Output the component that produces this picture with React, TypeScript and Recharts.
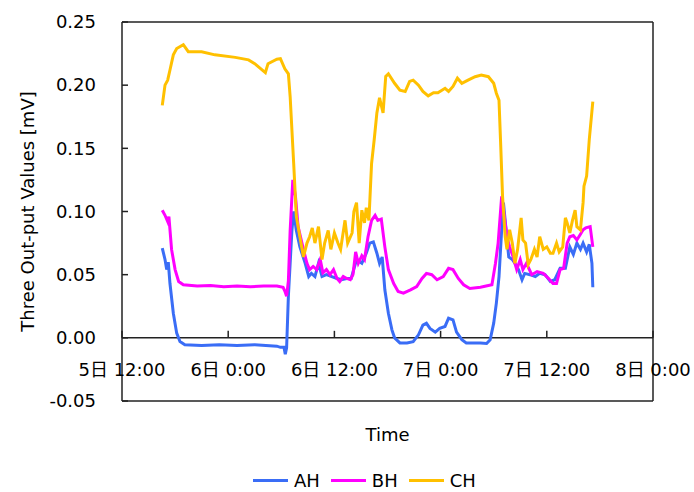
import React from 'react';
import { LineChart, Line, XAxis, YAxis, ReferenceLine, Legend, Label } from 'recharts';

// time in hours after 5日 12:00, value in mV
const ahPoints: [number, number][] = [
  [4.55, 0.071], [4.86, 0.062], [5.05, 0.054], [5.23, 0.06], [5.42, 0.043], [5.8, 0.0195], [6.18, 0.0037],
  [6.55, -0.003], [7.1, -0.0055], [9, -0.006], [11, -0.0055], [13, -0.006], [15, -0.0055], [17.5, -0.0066],
  [17.9, -0.0075], [18.3, -0.0075], [18.45, -0.013], [18.6, -0.008], [18.8, 0.033], [19.2, 0.085], [19.4, 0.1],
  [19.7, 0.085], [20.1, 0.072], [20.7, 0.059], [21.1, 0.0485], [21.4, 0.051], [21.8, 0.0485], [22.2, 0.059],
  [22.6, 0.0485], [23.1, 0.05], [23.7, 0.0485], [24.3, 0.047], [24.8, 0.046], [25.4, 0.047], [25.9, 0.047],
  [26.5, 0.062], [27.1, 0.059], [27.6, 0.067], [28, 0.075], [28.4, 0.076], [28.8, 0.067], [29.1, 0.059],
  [29.4, 0.064], [29.7, 0.038], [30.1, 0.0195], [30.5, 0.0063], [30.8, 0], [31.4, -0.004], [32.2, -0.004],
  [32.9, -0.003], [33.5, 0.0024], [34, 0.01], [34.4, 0.0115], [34.8, 0.0075], [35.4, 0.0045], [35.9, 0.0075],
  [36.5, 0.009], [36.9, 0.0155], [37.4, 0.0142], [37.8, 0.0045], [38.4, -0.0015], [38.9, -0.004], [40.5, -0.004],
  [41.2, -0.0045], [41.6, -0.0015], [42, 0.0116], [42.3, 0.0275], [42.6, 0.0485], [42.9, 0.0855], [43.1, 0.107],
  [43.4, 0.0855], [43.7, 0.064], [44.1, 0.062], [44.4, 0.059], [44.8, 0.054], [45.2, 0.046], [45.5, 0.051],
  [46.1, 0.05], [46.7, 0.0485], [47.2, 0.051], [47.8, 0.05], [48.4, 0.0446], [48.9, 0.046], [49.5, 0.055],
  [50.1, 0.055], [50.6, 0.072], [51, 0.066], [51.4, 0.075], [51.8, 0.07], [52.1, 0.075], [52.5, 0.068],
  [52.8, 0.074], [53.1, 0.059], [53.2, 0.04],
];

const bhPoints: [number, number][] = [
  [4.55, 0.101], [4.86, 0.097], [5.16, 0.092], [5.3, 0.096], [5.6, 0.07], [6, 0.054], [6.4, 0.0446],
  [6.93, 0.042], [8.5, 0.041], [10, 0.0415], [11.5, 0.0405], [13, 0.041], [14.5, 0.0405], [16, 0.041],
  [17.5, 0.041], [18.2, 0.04], [18.4, 0.037], [18.6, 0.033], [18.8, 0.045], [19, 0.085], [19.3, 0.125],
  [19.6, 0.112], [19.9, 0.088], [20.5, 0.07], [20.9, 0.059], [21.2, 0.054], [21.6, 0.0565], [22, 0.054],
  [22.4, 0.062], [22.7, 0.0514], [23.1, 0.054], [23.5, 0.05], [23.9, 0.054], [24.3, 0.047], [24.6, 0.0446],
  [25, 0.0485], [25.4, 0.047], [25.8, 0.046], [26.1, 0.05], [26.4, 0.068], [26.7, 0.059], [27.1, 0.065],
  [27.4, 0.062], [27.8, 0.08], [28.2, 0.093], [28.6, 0.097], [28.9, 0.093], [29.3, 0.094], [29.7, 0.072],
  [30.1, 0.054], [30.7, 0.043], [31.2, 0.0367], [31.8, 0.0354], [32.6, 0.038], [33.3, 0.0406], [33.9, 0.047],
  [34.4, 0.051], [35, 0.05], [35.6, 0.046], [36.3, 0.0485], [36.9, 0.055], [37.4, 0.054], [38, 0.047],
  [38.6, 0.042], [39.3, 0.039], [40.5, 0.04], [41.8, 0.042], [42.2, 0.059], [42.5, 0.075], [42.9, 0.112],
  [43.2, 0.096], [43.5, 0.08], [43.8, 0.072], [44.2, 0.064], [44.6, 0.054], [45, 0.062], [45.3, 0.054],
  [45.7, 0.059], [46.3, 0.05], [46.9, 0.0525], [47.6, 0.051], [48.2, 0.047], [48.7, 0.043], [49.1, 0.043],
  [49.5, 0.054], [49.9, 0.055], [50.3, 0.075], [50.6, 0.08], [51, 0.081], [51.4, 0.0775], [51.8, 0.082],
  [52.1, 0.0855], [52.4, 0.087], [52.9, 0.088], [53.2, 0.072],
];

const chPoints: [number, number][] = [
  [4.55, 0.184], [4.86, 0.2], [5.16, 0.204], [5.42, 0.212], [5.8, 0.224], [6.18, 0.229], [6.93, 0.232],
  [7.49, 0.2265], [9, 0.2265], [10.5, 0.224], [12.8, 0.222], [14.3, 0.22], [15, 0.217], [16.2, 0.21],
  [16.5, 0.217], [17.5, 0.2205], [17.9, 0.221], [18.4, 0.213], [18.8, 0.209], [19, 0.191], [19.4, 0.138],
  [19.7, 0.096], [20.1, 0.08], [20.5, 0.064], [20.9, 0.075], [21.2, 0.08], [21.5, 0.087], [21.8, 0.075],
  [22.2, 0.088], [22.6, 0.062], [22.9, 0.075], [23.3, 0.085], [23.6, 0.07], [24, 0.083], [24.4, 0.075],
  [24.7, 0.07], [25.2, 0.093], [25.5, 0.075], [26, 0.083], [26.2, 0.1], [26.5, 0.107], [26.8, 0.075],
  [27.1, 0.101], [27.4, 0.091], [27.6, 0.103], [27.9, 0.093], [28.2, 0.138], [28.5, 0.157], [28.8, 0.178],
  [29.1, 0.19], [29.5, 0.178], [29.8, 0.207], [30.1, 0.209], [30.8, 0.2015], [31.4, 0.196], [32, 0.195],
  [32.5, 0.203], [32.9, 0.204], [33.5, 0.2], [34, 0.195], [34.6, 0.1915], [35.2, 0.194], [35.7, 0.194],
  [36.5, 0.1975], [36.9, 0.195], [37.4, 0.199], [37.9, 0.2055], [38.4, 0.2015], [39.1, 0.204], [39.9, 0.2067],
  [40.6, 0.208], [41.4, 0.2067], [42, 0.2015], [42.3, 0.1936], [42.6, 0.188], [42.8, 0.151], [43, 0.112],
  [43.3, 0.08], [43.5, 0.07], [43.8, 0.0855], [44.1, 0.075], [44.4, 0.059], [44.7, 0.07], [45.1, 0.095],
  [45.3, 0.0775], [45.6, 0.075], [45.9, 0.058], [46.2, 0.062], [46.6, 0.07], [46.9, 0.064], [47.2, 0.08],
  [47.6, 0.07], [48, 0.072], [48.4, 0.067], [48.7, 0.067], [49.1, 0.075], [49.4, 0.068], [49.8, 0.072],
  [50.1, 0.095], [50.3, 0.091], [50.6, 0.083], [50.9, 0.093], [51.2, 0.101], [51.4, 0.088], [51.8, 0.0855],
  [52.1, 0.107], [52.2, 0.12], [52.5, 0.128], [52.8, 0.157], [53.2, 0.187],
];

const xTicks = [0, 12, 24, 36, 48, 60];
const xTickLabels = ['5日 12:00', '6日 0:00', '6日 12:00', '7日 0:00', '7日 12:00', '8日 0:00'];
const yTicks = [-0.05, 0, 0.05, 0.1, 0.15, 0.2, 0.25];

const series = [
  { name: 'AH', color: '#3a6df6', points: ahPoints },
  { name: 'BH', color: '#ff00ff', points: bhPoints },
  { name: 'CH', color: '#ffc000', points: chPoints },
];

const W = 694;
const H = 492;
const margin = { top: 22, right: 41, bottom: 41, left: 22 };
const xAxisHeight = 50;
const font = '"DejaVu Sans", "Noto Sans CJK JP", sans-serif';
const plotHeight = H - margin.top - margin.bottom - xAxisHeight;
const zeroY = margin.top + plotHeight * (0.25 / 0.3);

const XTick = (props: any) => {
  const { x, index } = props;
  return (
    <g>
      <line x1={x} x2={x} y1={zeroY} y2={zeroY - 7} stroke="#222" strokeWidth={1.5} />
      <text x={x} y={zeroY + 38} textAnchor="middle" fontSize={18} fontFamily={font} fill="#000">
        {xTickLabels[index]}
      </text>
    </g>
  );
};

const YTick = (props: any) => {
  const { x, y, payload } = props;
  return (
    <g>
      <line x1={x} x2={x + 6} y1={y} y2={y} stroke="#222" strokeWidth={1.5} />
      <text x={x - 26} y={y} dy="0.35em" textAnchor="end" fontSize={18} fontFamily={font} fill="#000">
        {payload.value.toFixed(2)}
      </text>
    </g>
  );
};

const renderLegend = () => (
  <div style={{ display: 'flex', alignItems: 'center', fontFamily: font, fontSize: 18, lineHeight: 'normal' }}>
    {series.map((s) => (
      <div key={s.name} style={{ display: 'flex', alignItems: 'center', marginRight: 11 }}>
        <span style={{ display: 'inline-block', width: 35, height: 3, background: s.color, marginRight: 6 }} />
        <span>{s.name}</span>
      </div>
    ))}
  </div>
);

const App = () => {
  return (
    <div style={{ position: 'absolute', left: 0, top: 0, background: '#fff' }}>
      <LineChart width={W} height={H} margin={margin}>
        <XAxis
          dataKey="h"
          type="number"
          domain={[0, 60]}
          ticks={xTicks}
          height={xAxisHeight}
          axisLine={false}
          tickLine={false}
          tick={XTick}
          allowDuplicatedCategory={false}
        >
          <Label
            content={(p: any) => (
              <text
                x={p.viewBox.x + p.viewBox.width / 2}
                y={p.viewBox.y + 40}
                textAnchor="middle"
                fontSize={18}
                fontFamily={font}
                fill="#000"
              >
                Time
              </text>
            )}
          />
        </XAxis>
        <YAxis
          type="number"
          domain={[-0.05, 0.25]}
          ticks={yTicks}
          width={100}
          axisLine={false}
          tickLine={false}
          tickSize={0}
          tickMargin={0}
          tick={YTick}
        >
          <Label
            content={(p: any) => {
              const cx = p.viewBox.x + 5;
              const cy = p.viewBox.y + p.viewBox.height / 2;
              return (
                <text
                  x={cx}
                  y={cy}
                  transform={`rotate(-90, ${cx}, ${cy})`}
                  textAnchor="middle"
                  dominantBaseline="central"
                  fontSize={18}
                  fontFamily={font}
                  fill="#000"
                >
                  Three Out-put Values [mV]
                </text>
              );
            }}
          />
        </YAxis>
        <ReferenceLine x={0} stroke="#222" strokeWidth={1.5} />
        <ReferenceLine x={60} stroke="#222" strokeWidth={1.5} />
        <ReferenceLine y={0.25} stroke="#222" strokeWidth={1.5} />
        <ReferenceLine y={-0.05} stroke="#222" strokeWidth={1.5} />
        <ReferenceLine y={0} stroke="#222" strokeWidth={1.5} />
        {series.map((s) => (
          <Line
            key={s.name}
            name={s.name}
            data={s.points.map(([h, v]) => ({ h, v }))}
            dataKey="v"
            type="linear"
            stroke={s.color}
            strokeWidth={3}
            dot={false}
            isAnimationActive={false}
          />
        ))}
        <Legend
          layout="vertical"
          align="center"
          verticalAlign="middle"
          content={renderLegend}
          wrapperStyle={{ position: 'absolute', left: 253, top: 470, width: 'auto' }}
        />
      </LineChart>
    </div>
  );
};

export default App;
